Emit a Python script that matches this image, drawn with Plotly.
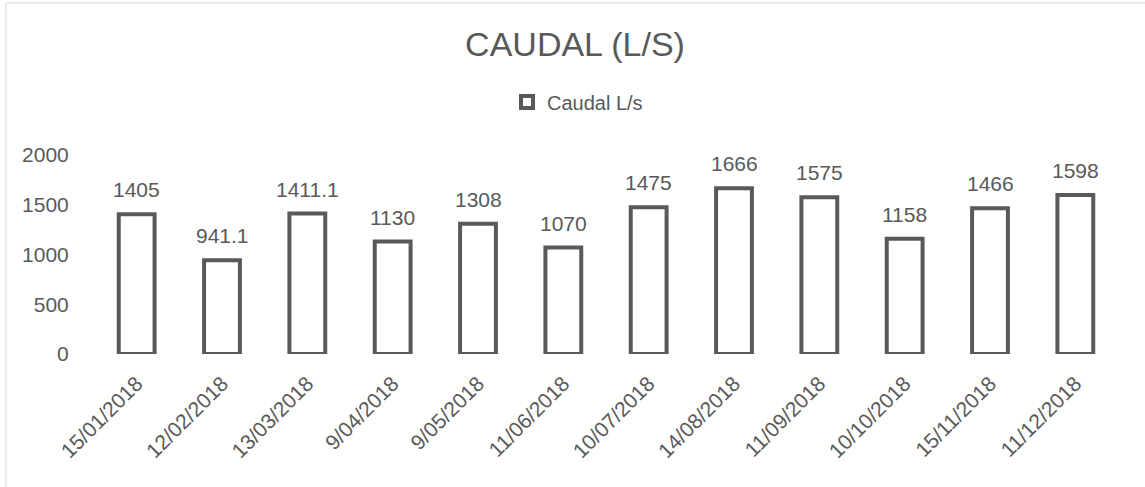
import plotly.graph_objects as go

dates = ["15/01/2018", "12/02/2018", "13/03/2018", "9/04/2018", "9/05/2018", "11/06/2018",
         "10/07/2018", "14/08/2018", "11/09/2018", "10/10/2018", "15/11/2018", "11/12/2018"]
caudal = [1405, 941.1, 1411.1, 1130, 1308, 1070, 1475, 1666, 1575, 1158, 1466, 1598]
labels = ["1405", "941.1", "1411.1", "1130", "1308", "1070", "1475", "1666", "1575", "1158", "1466", "1598"]

grey = "#595959"
FONT = "Liberation Sans, Arial"
W, H = 1145, 487
L, R, T, B = 94, 27, 155, 133

fig = go.Figure()
fig.add_trace(go.Bar(
    x=dates, y=caudal, name="Caudal L/s",
    marker=dict(color="white", line=dict(color=grey, width=4)),
    width=0.42,
))
for d, v, s in zip(dates, caudal, labels):
    fig.add_annotation(x=d, y=v, text=s, showarrow=False, yanchor="bottom", yshift=11,
                       font=dict(family=FONT, size=21, color=grey))

pw = W - L - R
ph = H - T - B
fig.add_shape(type="line", xref="paper", yref="paper",
              x0=(6 - L) / pw, x1=(6 - L) / pw, y0=(H - B - 3) / ph, y1=-(B + 10) / ph,
              line=dict(color="#d9d9d9", width=1))
fig.add_shape(type="line", xref="paper", yref="paper",
              x0=(6 - L) / pw, x1=(W + 10 - L) / pw, y0=(H - B - 3) / ph, y1=(H - B - 3) / ph,
              line=dict(color="#d9d9d9", width=1))

fig.update_layout(
    width=W, height=H,
    margin=dict(l=L, r=R, t=T, b=B, autoexpand=False),
    paper_bgcolor="white", plot_bgcolor="white",
    title=dict(text="CAUDAL (L/S)", xref="container", x=575 / W, xanchor="center",
               yref="container", y=1 - 44 / H, yanchor="middle",
               font=dict(family=FONT, size=34, color=grey)),
    showlegend=True,
    legend=dict(orientation="h", x=(507 - L) / pw, xanchor="left", y=(H - B - 102) / ph, yanchor="middle",
                font=dict(family=FONT, size=20, color=grey)),
    xaxis=dict(tickangle=-45, showgrid=False, showline=False, ticks="outside", ticklen=0,
               automargin=False, ticklabelstandoff=8,
               tickfont=dict(family=FONT, size=21, color=grey)),
    yaxis=dict(range=[0, 2000], dtick=500, showgrid=False, showline=False, zeroline=False,
               ticks="outside", ticklen=0, automargin=False, ticklabelstandoff=20,
               tickfont=dict(family=FONT, size=21, color=grey)),
)

fig.write_html("out.html", config={"displayModeBar": False},
               post_script="document.body.style.margin='0';document.body.style.overflow='hidden';")
